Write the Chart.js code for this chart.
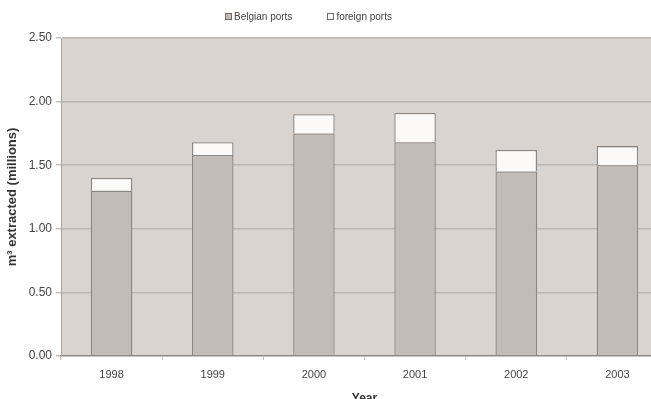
<!DOCTYPE html>
<html>
<head>
<meta charset="utf-8">
<script src="https://cdn.jsdelivr.net/npm/chart.js@4/dist/chart.umd.min.js"></script>
<style>
  html, body { margin: 0; padding: 0; background: #fff; overflow: hidden; width: 651px; height: 399px; }
  #wrap { position: relative; width: 668px; height: 406px; }
  #legend { position: absolute; top: 11px; left: 225px; display: flex; font-family: "Liberation Sans", Arial, sans-serif; font-size: 10px; color: #444; line-height: 11px; }
  #legend .item { display: flex; align-items: center; margin-right: 35px; }
  #legend .box { width: 5px; height: 5px; border: 1px solid #6f6b69; margin-right: 2px; }
</style>
</head>
<body>
<div id="wrap">
  <canvas id="chart"></canvas>
  <div id="legend"></div>
</div>
<script>
// Dredged volume per year, split by destination port (millions of m³)
const years = ['1998', '1999', '2000', '2001', '2002', '2003'];
const belgianPorts = [1.30, 1.58, 1.75, 1.68, 1.45, 1.50];
const foreignPorts = [0.10, 0.10, 0.15, 0.23, 0.17, 0.15];
const seriesNames = ['Belgian ports', 'foreign ports'];
const yTicks = [0, 0.5, 1.0, 1.5, 2.0, 2.5];

const plotBg = '#d9d4d0';
const barEdge = '#8a8684';
const fills = ['#c2bcb9', '#fcfaf8'];

// paints the grey plot area behind the bars
const plotBackground = {
  id: 'plotBackground',
  beforeDraw(chart) {
    const { ctx, chartArea: a } = chart;
    ctx.save();
    ctx.fillStyle = plotBg;
    ctx.fillRect(a.left, a.top, a.right - a.left, a.bottom - a.top);
    ctx.restore();
  }
};

const font = { family: '"Liberation Sans", Arial, sans-serif' };

const chart = new Chart(document.getElementById('chart'), {
  type: 'bar',
  data: {
    labels: years,
    datasets: [
      { label: seriesNames[0], data: belgianPorts, backgroundColor: fills[0], borderColor: barEdge, borderWidth: 1.3 },
      { label: seriesNames[1], data: foreignPorts, backgroundColor: fills[1], borderColor: barEdge, borderWidth: 1.3 }
    ]
  },
  options: {
    responsive: true,
    maintainAspectRatio: false,
    animation: false,
    devicePixelRatio: 1,
    layout: { padding: { top: 38, right: 0, bottom: 0, left: 0 } },
    datasets: { bar: { categoryPercentage: 1, barPercentage: 0.41 } },
    plugins: {
      legend: { display: false },
      tooltip: { enabled: false }
    },
    scales: {
      x: {
        stacked: true,
        afterFit(scale) { scale.height = 50; },
        grid: { display: true, drawOnChartArea: false, offset: true, tickLength: 4, color: '#c8c4c1' },
        border: { display: true, color: '#8c8886', width: 1.3 },
        ticks: { color: '#444', font: { ...font, size: 11 }, padding: 8 },
        title: { display: true, text: 'Year', color: '#333', font: { ...font, size: 12, weight: 'bold' }, padding: { top: 0, bottom: 0 } }
      },
      y: {
        stacked: true,
        min: 0,
        max: 2.5,
        afterFit(scale) { scale.width = 61; },
        afterBuildTicks(scale) { scale.ticks = yTicks.map(v => ({ value: v })); },
        grid: { display: true, drawOnChartArea: true, color: '#bab5b1', lineWidth: 1.6, tickLength: 5, tickColor: '#a9a5a2', tickWidth: 1 },
        border: { display: true, color: '#a9a5a2', width: 1 },
        ticks: { color: '#444', font: { ...font, size: 12 }, padding: 4, callback: v => Number(v).toFixed(2) },
        title: { display: true, text: 'm³ extracted (millions)', color: '#333', font: { ...font, size: 13, weight: 'bold' }, padding: { top: 5, bottom: 0 } }
      }
    }
  },
  plugins: [plotBackground]
});

// legend row built from the chart's datasets
const legend = document.getElementById('legend');
chart.data.datasets.forEach(ds => {
  const item = document.createElement('div');
  item.className = 'item';
  const box = document.createElement('span');
  box.className = 'box';
  box.style.background = ds.backgroundColor;
  const txt = document.createElement('span');
  txt.textContent = ds.label;
  item.appendChild(box);
  item.appendChild(txt);
  legend.appendChild(item);
});
</script>
</body>
</html>
